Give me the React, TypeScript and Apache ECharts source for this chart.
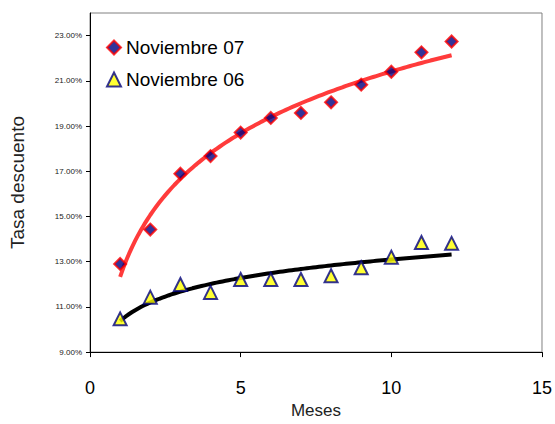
import React, { useEffect, useRef } from "react";
import * as echarts from "echarts";

const months = [1, 2, 3, 4, 5, 6, 7, 8, 9, 10, 11, 12];
const nov07 = [12.9, 14.42, 16.89, 17.67, 18.71, 19.36, 19.58, 20.05, 20.83, 21.4, 22.26, 22.74];
const nov06 = [10.47, 11.43, 11.99, 11.64, 12.21, 12.21, 12.21, 12.38, 12.73, 13.2, 13.85, 13.81];
const yTicks = [9, 11, 13, 15, 17, 19, 21, 23];

// Logarithmic least-squares trend line (as in the spreadsheet), derived from the data
function logTrend(xs: number[], ys: number[]) {
  const ls = xs.map((x) => Math.log(x));
  const n = xs.length;
  const lm = ls.reduce((a, b) => a + b, 0) / n;
  const ym = ys.reduce((a, b) => a + b, 0) / n;
  let sxy = 0, sxx = 0;
  for (let i = 0; i < n; i++) {
    sxy += (ls[i] - lm) * (ys[i] - ym);
    sxx += (ls[i] - lm) * (ls[i] - lm);
  }
  const b = sxy / sxx;
  const a = ym - b * lm;
  const pts: number[][] = [];
  const x0 = xs[0], x1 = xs[n - 1];
  for (let k = 0; k <= 110; k++) {
    const x = x0 + ((x1 - x0) * k) / 110;
    pts.push([x, a + b * Math.log(x)]);
  }
  return pts;
}

export default function App() {
  const ref = useRef<HTMLDivElement>(null);
  useEffect(() => {
    const chart = echarts.init(ref.current!, null, { renderer: "svg" });
    const font = "Liberation Sans, Arial, sans-serif";
    chart.setOption({
      animation: false,
      backgroundColor: "#ffffff",
      textStyle: { fontFamily: font },
      grid: {
        left: 90,
        right: 11,
        top: 13,
        bottom: 64,
        show: true,
        borderColor: "#808080",
        borderWidth: 1,
        backgroundColor: "transparent",
      },
      legend: {
        orient: "vertical",
        left: 101,
        top: 33,
        itemGap: 13,
        itemWidth: 14,
        itemHeight: 14,
        textStyle: { fontSize: 19, color: "#000", fontFamily: font },
        data: [
          { name: "Noviembre 07", icon: "diamond" },
          { name: "Noviembre 06", icon: "triangle" },
        ],
      },
      xAxis: {
        type: "value",
        min: 0,
        max: 15,
        interval: 5,
        name: "Meses",
        nameLocation: "middle",
        nameGap: 45,
        nameTextStyle: { fontSize: 17, color: "#222", fontFamily: font },
        axisLine: { show: true, lineStyle: { color: "#000", width: 1 } },
        axisTick: { show: true, length: 5, lineStyle: { color: "#000" } },
        axisLabel: { fontSize: 18, color: "#000", margin: 27, fontFamily: font },
        splitLine: { show: false },
      },
      yAxis: {
        type: "value",
        min: 9,
        max: 24,
        name: "Tasa descuento",
        nameLocation: "middle",
        nameGap: 63,
        nameTextStyle: { fontSize: 19, color: "#222", fontFamily: font },
        axisLine: { show: true, lineStyle: { color: "#000", width: 1 } },
        axisTick: { show: true, length: 4, customValues: yTicks, lineStyle: { color: "#000" } },
        axisLabel: {
          fontSize: 8,
          color: "#222",
          margin: 8,
          customValues: yTicks,
          fontFamily: font,
          formatter: (v: number) => v.toFixed(2) + "%",
        },
        splitLine: { show: false },
      },
      series: [
        {
          name: "trend07",
          type: "line",
          data: logTrend(months, nov07),
          showSymbol: false,
          lineStyle: { color: "#ff3b3b", width: 4 },
          z: 1,
        },
        {
          name: "trend06",
          type: "line",
          data: logTrend(months, nov06),
          showSymbol: false,
          lineStyle: { color: "#000000", width: 4 },
          z: 1,
        },
        {
          name: "Noviembre 07",
          type: "scatter",
          data: months.map((m, i) => [m, nov07[i]]),
          symbol: "diamond",
          symbolSize: 12,
          itemStyle: { color: "#000080", borderColor: "#ff0000", borderWidth: 2 },
          z: 3,
        },
        {
          name: "Noviembre 06",
          type: "scatter",
          data: months.map((m, i) => [m, nov06[i]]),
          symbol: "triangle",
          symbolSize: 13,
          itemStyle: { color: "#ffff00", borderColor: "#000080", borderWidth: 2 },
          z: 3,
        },
      ],
    });
    return () => chart.dispose();
  }, []);
  return (
    <div
      ref={ref}
      style={{ position: "fixed", left: 0, top: 0, width: 555, height: 424 }}
    />
  );
}
